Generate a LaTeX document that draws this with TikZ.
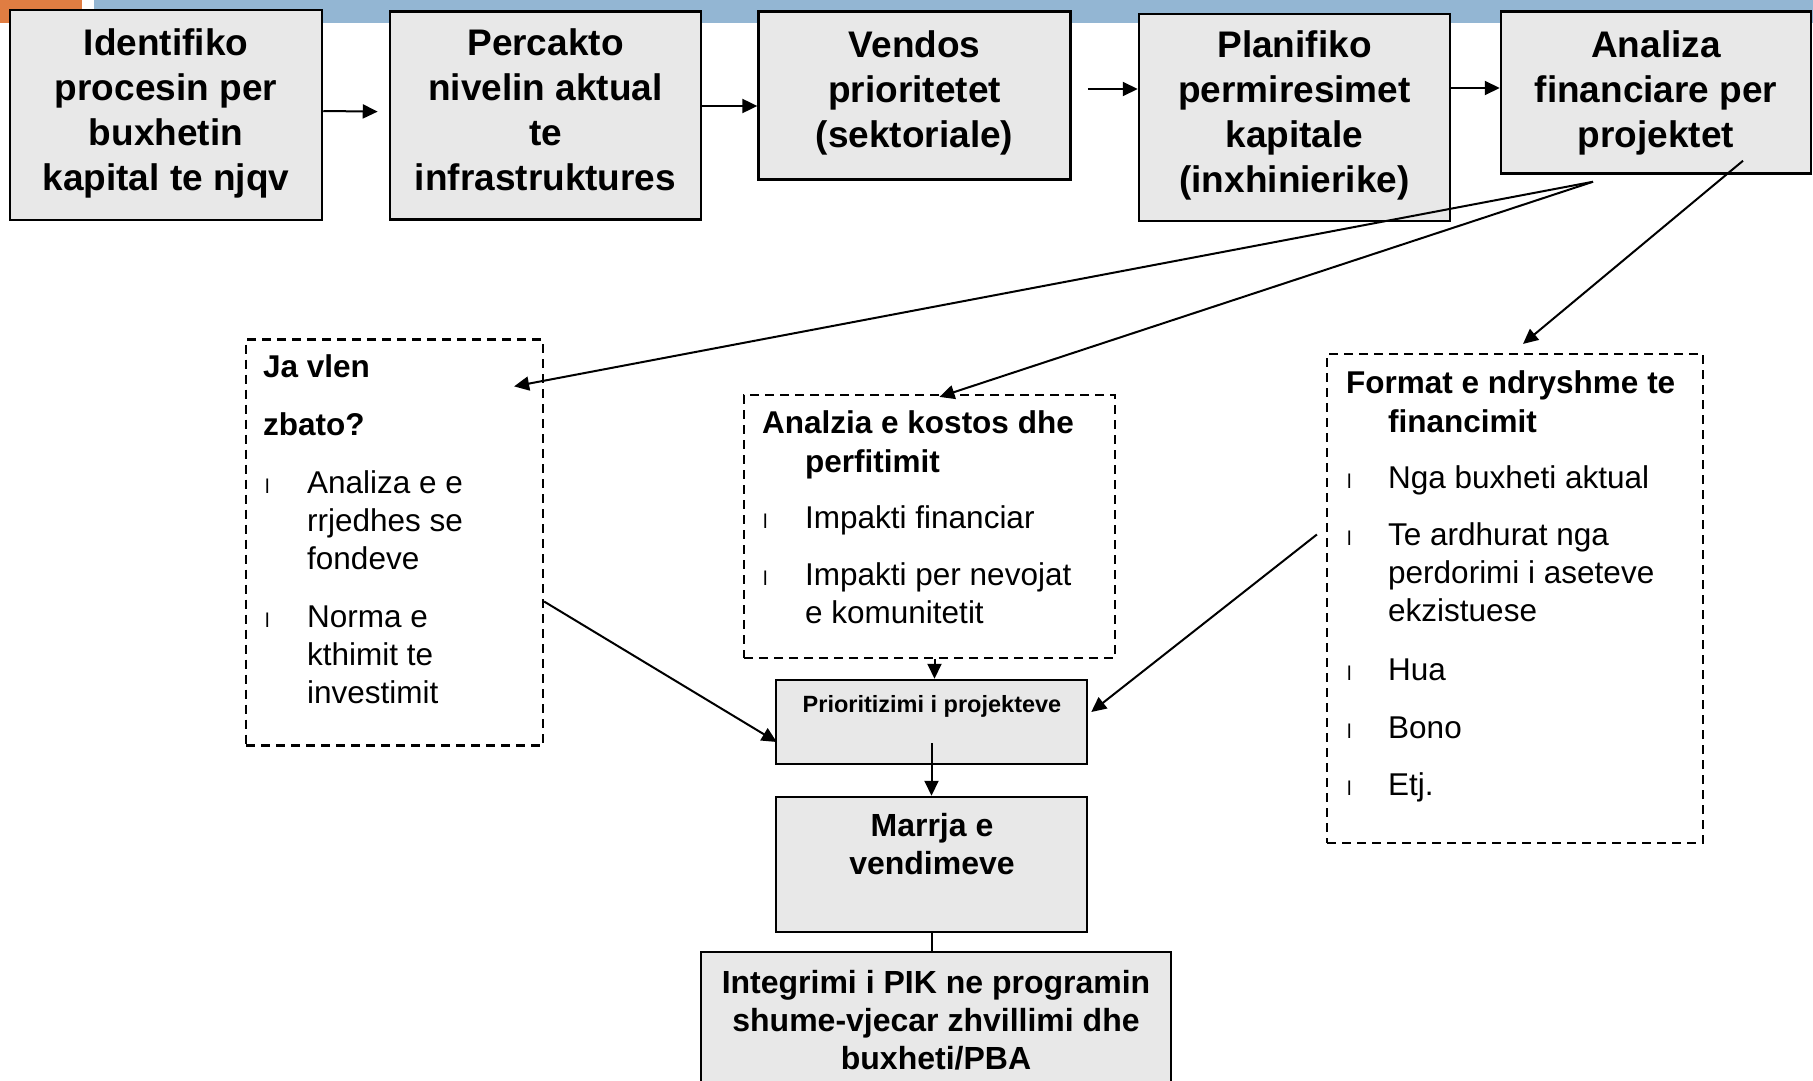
\documentclass[tikz,border=0pt]{standalone}
\usepackage{fontspec}
\setmainfont{Liberation Sans}
\usetikzlibrary{arrows.meta}
\definecolor{boxgray}{HTML}{E8E8E8}
\definecolor{barorange}{HTML}{E07D42}
\definecolor{barblue}{HTML}{93B6D3}
% fixed first-line height and last-line depth, so each step box places its text exactly
\newcommand\padtext[3]{\rule{0pt}{#1}#3\rule[-#2]{0pt}{#2}}

\begin{document}
\begin{tikzpicture}[x=1pt,y=-1pt,
  topbox/.style={draw, line width=2.5pt, fill=boxgray, inner sep=0pt, align=center,
    font=\bfseries\fontsize{37}{45}\selectfont},
  flowbox/.style={draw, line width=2.5pt, fill=boxgray, inner sep=0pt},
  dashbox/.style={draw, line width=2.2pt, dash pattern=on 9pt off 6pt, inner sep=0pt},
  head/.style={anchor=north west, inner sep=0pt, align=left,
    font=\bfseries\fontsize{31.5}{39}\selectfont},
  item/.style={anchor=north west, inner sep=0pt, align=left,
    font=\fontsize{31.5}{38}\selectfont},
  bul/.style={anchor=base west, inner sep=0pt, font=\fontsize{20}{20}\selectfont},
  ctext/.style={inner sep=0pt, align=center, font=\bfseries\fontsize{32}{38}\selectfont},
  arr/.style={line width=2pt, -{Triangle[length=15pt,width=14pt]}},
  link/.style={line width=2pt},
]
\useasboundingbox (0,0) rectangle (1813,1081);
\clip (0,0) rectangle (1813,1081);

% header bars
\fill[barorange] (0,0) rectangle (82,23);
\fill[barblue] (94,0) rectangle (1813,23);

% process steps along the top
\node[topbox, minimum width=312pt, minimum height=210pt] (b1) at (166,115)
  {\padtext{30pt}{14pt}{Identifiko\\procesin per\\buxhetin\\kapital te njqv}};
\node[topbox, minimum width=311pt, minimum height=208pt] (b2) at (545.5,115.6)
  {\padtext{30pt}{15.2pt}{Percakto\\nivelin aktual\\te\\infrastruktures}};
\node[topbox, minimum width=312pt, minimum height=168pt] (b3) at (914.6,95.4)
  {\padtext{31.5pt}{18.3pt}{Vendos\\prioritetet\\(sektoriale)}};
\node[topbox, minimum width=311pt, minimum height=207pt] (b4) at (1294.5,117.4)
  {\padtext{31.5pt}{17.3pt}{Planifiko\\permiresimet\\kapitale\\(inxhinierike)}};
\node[topbox, minimum width=310pt, minimum height=162pt] (b5) at (1656,92.5)
  {\padtext{31.5pt}{12.5pt}{Analiza\\financiare per\\projektet}};

\draw[arr] ([yshift=4pt]b1.east) -- ([yshift=4pt,xshift=-11pt]b2.west);
\draw[arr] ([yshift=9.6pt]b2.east) -- ([yshift=-10.6pt]b3.west);
\draw[arr] ([yshift=6.4pt,xshift=16pt]b3.east) -- ([yshift=28.4pt]b4.west);
\draw[arr] ([yshift=29.4pt]b4.east) -- ([yshift=4.5pt]b5.west);

% analysis boxes
\node[dashbox, minimum width=297pt, minimum height=406pt] (ja) at (394.5,542.5) {};
\node[dashbox, minimum width=371pt, minimum height=263pt] (kost) at (929.5,526.5) {};
\node[dashbox, minimum width=376pt, minimum height=489pt] (fin) at (1515,598.5) {};

% left box contents
\node[head, font=\bfseries\fontsize{31.5}{58}\selectfont] (jaH) at (263,352)
  {\rule{0pt}{25pt}Ja vlen\\zbato?};
\node[bul] (jaB1) at (265,493) {l};
\node[item] (jaI1) at (307,468) {\rule{0pt}{25pt}Analiza e e\\rrjedhes se\\fondeve};
\node[bul] (jaB2) at (265,627) {l};
\node[item] (jaI2) at (307,602) {\rule{0pt}{25pt}Norma e\\kthimit te\\investimit};

% middle box contents
\node[head] (kostH) at (762,408)
  {\rule{0pt}{25pt}Analzia e kostos dhe\\\hspace*{43pt}perfitimit};
\node[bul] (kostB1) at (763,528) {l};
\node[item] (kostI1) at (805,503) {\rule{0pt}{25pt}Impakti financiar};
\node[bul] (kostB2) at (763,585) {l};
\node[item] (kostI2) at (805,560) {\rule{0pt}{25pt}Impakti per nevojat\\e komunitetit};

% right box contents
\node[head] (finH) at (1346,368)
  {\rule{0pt}{25pt}Format e ndryshme te\\\hspace*{42pt}financimit};
\node[bul] (finB1) at (1347,488) {l};
\node[item] (finI1) at (1388,463) {\rule{0pt}{25pt}Nga buxheti aktual};
\node[bul] (finB2) at (1347,545) {l};
\node[item] (finI2) at (1388,520)
  {\rule{0pt}{25pt}Te ardhurat nga\\perdorimi i aseteve\\ekzistuese};
\node[bul] (finB3) at (1347,680) {l};
\node[item] (finI3) at (1388,655) {\rule{0pt}{25pt}Hua};
\node[bul] (finB4) at (1347,738) {l};
\node[item] (finI4) at (1388,713) {\rule{0pt}{25pt}Bono};
\node[bul] (finB5) at (1347,795) {l};
\node[item] (finI5) at (1388,770) {\rule{0pt}{25pt}Etj.};

% decision chain
\node[flowbox, minimum width=311pt, minimum height=84pt] (prio) at (931.5,722) {};
\node[anchor=base, inner sep=0pt, font=\bfseries\fontsize{23.5}{27}\selectfont] (prioT)
  at (932,712) {Prioritizimi i projekteve};
\node[flowbox, minimum width=311pt, minimum height=135pt] (marr) at (931.5,864.5) {};
\node[ctext, anchor=north] (marrT) at (932,811) {\rule{0pt}{25pt}Marrja e\\vendimeve};
\node[flowbox, minimum width=470pt, minimum height=168pt] (integ) at (936,1036) {};
\node[ctext, anchor=north] (integT) at (936,968)
  {\rule{0pt}{25pt}Integrimi i PIK ne programin\\shume-vjecar zhvillimi dhe\\buxheti/PBA};

% connectors from the financial analysis
\draw[arr] ([xshift=-63pt,yshift=-7pt]b5.south) -- ([xshift=-30pt,yshift=-48pt]ja.north east);
\draw[arr] ([xshift=-63pt,yshift=-7pt]b5.south) -- ([xshift=10pt,yshift=-3pt]kost.north);
\draw[arr] ([xshift=87pt,yshift=14pt]b5.south) -- ([xshift=8pt,yshift=9pt]fin.north);

% connectors into the prioritisation
\draw[arr] ([yshift=-59pt]ja.east) -- ([xshift=2pt,yshift=-20pt]prio.west);
\draw[arr] ([xshift=-9pt,yshift=64pt]fin.west) -- ([xshift=3pt,yshift=10pt]prio.east);
\draw[arr] ([xshift=5pt]kost.south) -- ([xshift=3pt]prio.north);
\draw[arr] ([yshift=-21pt]prio.center) -- (marr.north);
\draw[link] (marr.south) -- (marr.south |- integ.north);
\end{tikzpicture}
\end{document}
